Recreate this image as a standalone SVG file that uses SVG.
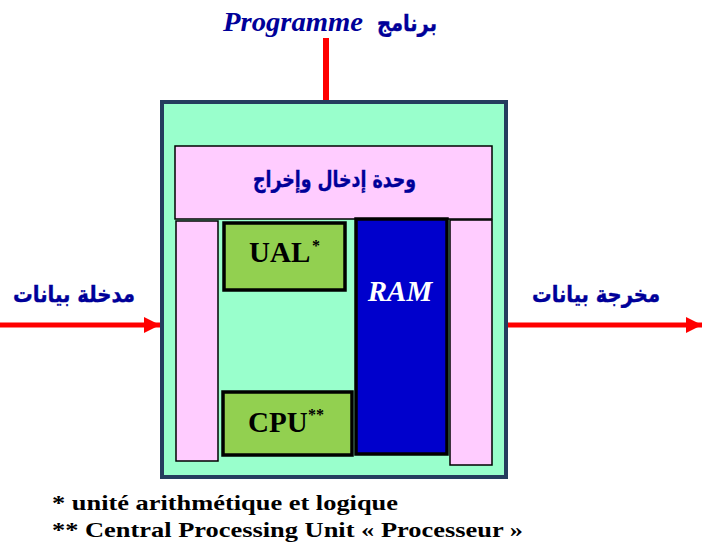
<svg xmlns="http://www.w3.org/2000/svg" width="712" height="550" viewBox="0 0 712 550">
<defs>
<style>
.ar{font-family:"DejaVu Sans",sans-serif;font-weight:bold;fill:#000099;font-size:23px;stroke:#000099;stroke-width:0.4}
.tn{font-family:"Liberation Serif",serif;font-weight:bold}
.pink{fill:#FFCCFF;stroke:#000;stroke-width:1.5}
.green{fill:#92D050;stroke:#000;stroke-width:3.5}
.wire{stroke:#FF0000;stroke-width:5;fill:none}
</style>
<marker id="ah" viewBox="0 0 16 16" refX="16" refY="8" markerWidth="16" markerHeight="16" markerUnits="userSpaceOnUse" orient="auto">
<path d="M0,0 L16,8 L0,16 Z" fill="#FF0000"/>
</marker>
</defs>
<rect width="712" height="550" fill="#fff"/>
<g id="programme">
<text x="223" y="31" class="tn" font-style="italic" font-size="28" fill="#000099" textLength="140" lengthAdjust="spacingAndGlyphs">Programme</text>
<text x="377" y="31" class="ar" textLength="60" lengthAdjust="spacingAndGlyphs">برنامج</text>
</g>
<g id="connectors">
<line x1="326" y1="38" x2="326" y2="101" stroke="#FF0000" stroke-width="6"/>
<line x1="0" y1="325" x2="160" y2="325" class="wire" marker-end="url(#ah)"/>
<line x1="508" y1="325" x2="702" y2="325" class="wire" marker-end="url(#ah)"/>
</g>
<g id="computer">
<rect x="162" y="102" width="344" height="375" fill="#99FFCC" stroke="#253D5E" stroke-width="4"/>
</g>
<g id="io">
<rect x="175" y="146" width="317" height="73" class="pink"/>
<rect x="176" y="221" width="42" height="240" class="pink"/>
<rect x="450" y="220" width="42" height="245" class="pink"/>
<text x="253" y="187" class="ar" textLength="163" lengthAdjust="spacingAndGlyphs">وحدة إدخال وإخراج</text>
</g>
<g id="ual">
<rect x="224" y="223" width="121" height="67" class="green"/>
<text x="249" y="262" class="tn" font-size="29">UAL</text>
<text x="312" y="251" class="tn" font-size="16">*</text>
</g>
<g id="cpu">
<rect x="223" y="392" width="129" height="63" class="green"/>
<text x="248" y="432" class="tn" font-size="29">CPU</text>
<text x="308" y="420" class="tn" font-size="16">**</text>
</g>
<g id="ram">
<rect x="356" y="219" width="91" height="235" fill="#0000CC" stroke="#000" stroke-width="3.5"/>
<text x="400" y="301" class="tn" font-style="italic" font-size="29" fill="#fff" text-anchor="middle">RAM</text>
</g>
<g id="input">
<text x="13" y="302" class="ar" textLength="122" lengthAdjust="spacingAndGlyphs">مدخلة بيانات</text>
</g>
<g id="output">
<text x="532" y="302" class="ar" textLength="128" lengthAdjust="spacingAndGlyphs">مخرجة بيانات</text>
</g>
<g id="notes">
<text x="52" y="510" class="tn" font-size="22" textLength="346" lengthAdjust="spacingAndGlyphs">* unité arithmétique et logique</text>
<text x="52" y="537" class="tn" font-size="22" textLength="471" lengthAdjust="spacingAndGlyphs">** Central Processing Unit « Processeur »</text>
</g>
</svg>
